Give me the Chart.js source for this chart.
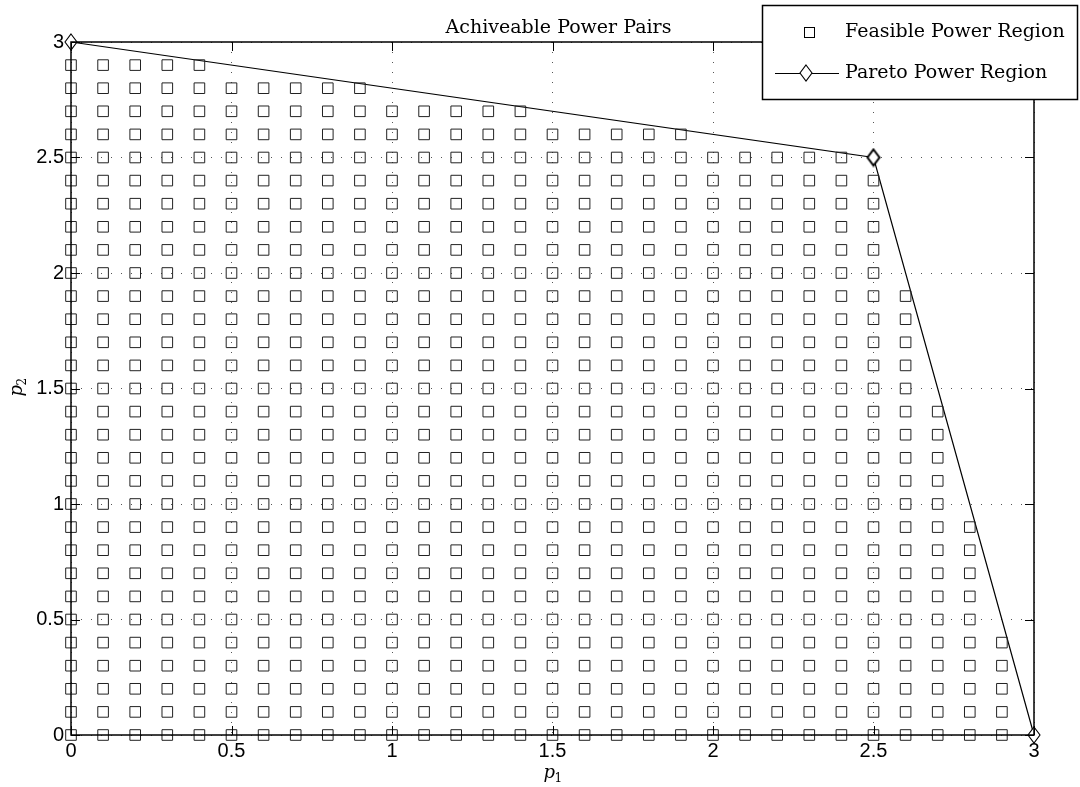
<!DOCTYPE html>
<html>
<head>
<meta charset="utf-8">
<script src="https://cdn.jsdelivr.net/npm/chart.js@4"></script>
<style>
  html, body { margin: 0; padding: 0; background: #fff; }
  #wrap { width: 1080px; height: 787px; }
</style>
</head>
<body>
<div id="wrap"><canvas id="myChart" width="1080" height="787"></canvas></div>
<script>
// feasible grid: p1 candidate values, p2 rows and how many p1 values fit in each row
const p1Grid = [0, 0.1, 0.2, 0.3, 0.4, 0.5, 0.6, 0.7, 0.8, 0.9, 1.0, 1.1, 1.2, 1.3, 1.4,
                1.5, 1.6, 1.7, 1.8, 1.9, 2.0, 2.1, 2.2, 2.3, 2.4, 2.5, 2.6, 2.7, 2.8, 2.9];
const p2Rows = [0, 0.1, 0.2, 0.3, 0.4, 0.5, 0.6, 0.7, 0.8, 0.9, 1.0, 1.1, 1.2, 1.3, 1.4,
                1.5, 1.6, 1.7, 1.8, 1.9, 2.0, 2.1, 2.2, 2.3, 2.4, 2.5, 2.6, 2.7, 2.8, 2.9];
const rowCounts = [30, 30, 30, 30, 30, 29, 29, 29, 29, 29, 28, 28, 28, 28, 28,
                   27, 27, 27, 27, 27, 26, 26, 26, 26, 26, 25, 20, 15, 10, 5];

// pareto boundary
const paretoP1 = [0, 2.5, 3];
const paretoP2 = [3, 2.5, 0];

const tickVals = [0, 0.5, 1, 1.5, 2, 2.5, 3];
const tickLabels = ['0', '0.5', '1', '1.5', '2', '2.5', '3'];

const feasible = [];
p2Rows.forEach((p2, i) => {
  p1Grid.slice(0, rowCounts[i]).forEach(p1 => feasible.push({ x: p1, y: p2 }));
});
const pareto = paretoP1.map((p1, i) => ({ x: p1, y: paretoP2[i] }));

// tall matlab-like diamond marker
function makeDiamond(w, h, lw) {
  const c = document.createElement('canvas');
  c.width = w + 4; c.height = h + 4;
  const g = c.getContext('2d');
  g.strokeStyle = '#000';
  g.fillStyle = '#fff';
  g.lineWidth = lw;
  const cx = c.width / 2, cy = c.height / 2;
  g.beginPath();
  g.moveTo(cx, cy - h / 2);
  g.lineTo(cx + w / 2, cy);
  g.lineTo(cx, cy + h / 2);
  g.lineTo(cx - w / 2, cy);
  g.closePath();
  g.fill();
  g.stroke();
  return c;
}
const diamond = makeDiamond(12, 16, 1.1);
const diamondBold = makeDiamond(12, 16, 2);

const serif = '"DejaVu Serif", serif';
const sans = '"Liberation Sans", Arial, sans-serif';

const framePlugin = {
  id: 'frame',
  afterDraw(chart) {
    const { ctx, chartArea: a, scales } = chart;
    ctx.save();
    // inward ticks
    ctx.strokeStyle = '#000';
    ctx.lineWidth = 1;
    ctx.beginPath();
    tickVals.forEach(v => {
      const px = Math.round(scales.x.getPixelForValue(v)) + 0.5;
      ctx.moveTo(px, a.bottom); ctx.lineTo(px, a.bottom - 9);
      ctx.moveTo(px, a.top); ctx.lineTo(px, a.top + 9);
      const py = Math.round(scales.y.getPixelForValue(v)) + 0.5;
      ctx.moveTo(a.left, py); ctx.lineTo(a.left + 9, py);
      ctx.moveTo(a.right, py); ctx.lineTo(a.right - 9, py);
    });
    ctx.stroke();
    // box
    ctx.lineWidth = 1.5;
    ctx.strokeRect(a.left, a.top, a.right - a.left, a.bottom - a.top);

    // title
    ctx.fillStyle = '#000';
    ctx.font = '19px ' + serif;
    ctx.textAlign = 'center';
    ctx.textBaseline = 'alphabetic';
    ctx.fillText('Achiveable Power Pairs', (a.left + a.right) / 2 + 6, 33);

    // axis titles
    ctx.font = 'italic 18px ' + serif;
    ctx.textAlign = 'left';
    const xt = (a.left + a.right) / 2 - 9;
    ctx.fillText('p', xt, 778);
    ctx.font = '12px ' + serif;
    ctx.fillText('1', xt + 11, 782);
    ctx.save();
    ctx.translate(22, (a.top + a.bottom) / 2 + 8);
    ctx.rotate(-Math.PI / 2);
    ctx.font = 'italic 18px ' + serif;
    ctx.fillText('p', 0, 0);
    ctx.font = '12px ' + serif;
    ctx.fillText('2', 11, 4);
    ctx.restore();

    // legend box
    const lx = 762, ly = 5, lw = 315, lh = 94;
    ctx.fillStyle = '#fff';
    ctx.fillRect(lx, ly, lw, lh);
    ctx.lineWidth = 1.5;
    ctx.strokeStyle = '#000';
    ctx.strokeRect(lx + 0.5, ly + 0.5, lw, lh);
    ctx.lineWidth = 1;
    ctx.strokeRect(804.5, 27.5, 10, 10);
    ctx.beginPath();
    ctx.moveTo(775, 73.5); ctx.lineTo(839, 73.5);
    ctx.stroke();
    ctx.drawImage(diamond, 806 - diamond.width / 2, 73 - diamond.height / 2);
    ctx.fillStyle = '#000';
    ctx.font = '19px ' + serif;
    ctx.textAlign = 'left';
    ctx.textBaseline = 'middle';
    ctx.fillText('Feasible Power Region', 845, 32);
    ctx.fillText('Pareto Power Region', 845, 73);
    ctx.restore();
  }
};

const ctx = document.getElementById('myChart').getContext('2d');

new Chart(ctx, {
  type: 'scatter',
  data: {
    datasets: [
      {
        label: 'Feasible Power Region',
        data: feasible,
        pointStyle: 'rect',
        pointRadius: 7.5,
        pointBorderWidth: 1,
        pointBorderColor: '#222',
        pointBackgroundColor: 'rgba(0,0,0,0)',
        showLine: false,
        clip: false
      },
      {
        label: 'Pareto Power Region',
        data: pareto,
        showLine: true,
        borderColor: '#000',
        borderWidth: 1.2,
        pointStyle: [diamond, diamondBold, diamond],
        pointRadius: 8,
        tension: 0,
        clip: false
      }
    ]
  },
  options: {
    responsive: false,
    animation: false,
    events: [],
    layout: { padding: { left: 0, top: 42, right: 46, bottom: 0 } },
    plugins: {
      legend: { display: false },
      title: { display: false },
      tooltip: { enabled: false }
    },
    scales: {
      x: {
        type: 'linear',
        min: 0, max: 3,
        afterFit: s => { s.height = 52; },
        afterBuildTicks: s => { s.ticks = tickVals.map(v => ({ value: v })); },
        ticks: {
          color: '#000',
          padding: 4,
          font: { family: sans, size: 20 },
          maxRotation: 0,
          callback: (v, i) => tickLabels[i]
        },
        grid: { color: '#555', lineWidth: 1, drawTicks: false },
        border: { display: false, dash: [1, 9] }
      },
      y: {
        type: 'linear',
        min: 0, max: 3,
        afterFit: s => { s.width = 71; },
        afterBuildTicks: s => { s.ticks = tickVals.map(v => ({ value: v })); },
        ticks: {
          color: '#000',
          padding: 7,
          font: { family: sans, size: 20 },
          callback: (v, i) => tickLabels[i]
        },
        grid: { color: '#555', lineWidth: 1, drawTicks: false },
        border: { display: false, dash: [1, 9] }
      }
    }
  },
  plugins: [framePlugin]
});
</script>
</body>
</html>
